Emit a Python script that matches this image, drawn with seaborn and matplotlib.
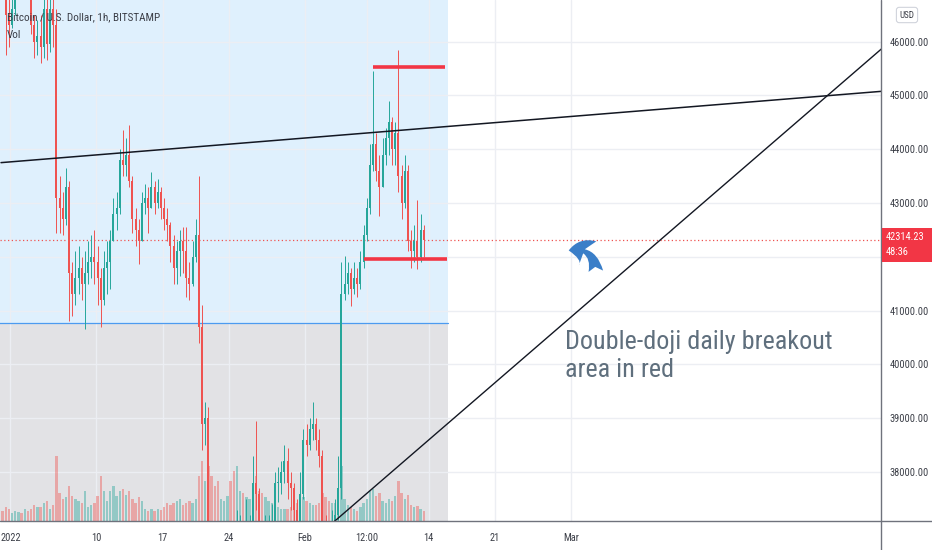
import numpy as np
import pandas as pd
import matplotlib
matplotlib.use("Agg")
import matplotlib.pyplot as plt
import seaborn as sns
from matplotlib import font_manager as fm
from matplotlib.patches import Rectangle, FancyArrowPatch
from matplotlib.lines import Line2D
from matplotlib.transforms import blended_transform_factory

# ---------------- data (8-hour candles) ----------------
first_open = 47600
closes = [
    47100, 46500, 46300,  46600, 47200, 47400,  47300, 47500, 47200,  46300, 46000, 46100,
    45900, 46600, 45950,  46600, 46300, 43100,  42900, 42700, 43300,  41700, 41300, 41600,
    41800, 41500, 41700,  41900, 42000, 41900,  41600, 41200, 41800,  41900, 42300, 42800,
    42900, 43800, 43700,  43900, 43400, 42700,  42500, 42300, 43000,  43100, 42900, 43300,
    43000, 43200, 42900,  42700, 42600, 42200,  41800, 42100, 42300,  42100, 41600, 41500,
    42000, 42400, 40700,  38900, 39000, 36300,  35500, 35200, 35000,  35400, 35700, 36200,
    34800, 33500, 36600,  36700, 36500, 36900,  36900, 37800, 37600,  36600, 36200, 36800,
    36900, 37000, 37800,  37800, 38000, 38200,  37800, 37700, 37300,  37000, 37600, 38600,
    38500, 38800, 38900,  38600, 38300, 37000,  36800, 36600, 37000,  37200, 37700, 41300,
    41500, 41700, 41400,  41600, 41500, 41900,  42400, 42900, 43700,  44100, 43600, 43300,
    43900, 44200, 44500,  44000, 44300, 43500,  43000, 43600, 42300,  42100, 42300, 42000,
    42500, 42314.23,
]
highs = [
    48200, 47300, 46900,  47000, 47600, 47900,  47900, 47800, 47600,  47300, 46500, 46400,
    46500, 47200, 46900,  47000, 47000, 46600,  43500, 43200, 43650,  43400, 41900, 42100,
    42200, 42000, 42100,  42300, 42400, 42500,  42200, 41800, 42100,  42300, 42500, 43100,
    43200, 44000, 44360,  44200, 44450, 43500,  42900, 42700, 43200,  43350, 43300, 43580,
    43400, 43450, 43300,  43100, 42900, 42650,  42400, 42300, 42500,  42550, 42550, 41900,
    42300, 42700, 43500,  41100, 39300, 39200,  36400, 35700, 35500,  35900, 36000, 36500,
    36300, 35000, 37300,  37200, 37000, 37500,  37200, 38300, 38950,  37700, 36800, 37200,
    37200, 37400, 38000,  38100, 38200, 38500,  38450, 38000, 37800,  37500, 38000, 38800,
    38900, 39000, 39300,  39000, 38800, 38400,  37200, 37000, 37300,  37500, 38300, 41900,
    42010, 41900, 41800,  41900, 41800, 42100,  42600, 43100, 44100,  45450, 44300, 43900,
    44200, 44400, 44900,  44600, 44500, 45850,  43700, 43900, 43700,  42500, 42600, 43060,
    42800, 42600,
]
lows = [
    46900, 45750, 45900,  46250, 46500, 47000,  46900, 47100, 46900,  46150, 45700, 45750,
    45600, 45700, 45650,  45800, 45900, 42450,  42450, 42400, 42600,  40800, 40900, 41100,
    41300, 41200, 40650,  41500, 41600, 41500,  41100, 40700, 41100,  41300, 41400, 42300,
    42500, 42800, 43500,  43500, 43300, 42450,  42200, 41860, 42300,  42800, 42450, 42900,
    42800, 42900, 42700,  42500, 42300, 41900,  41500, 41500, 41650,  41700, 41250, 41200,
    41450, 41900, 40400,  38400, 38500, 35800,  35000, 34600, 34100,  34700, 35200, 35500,
    34000, 32900, 33300,  36000, 35700, 36300,  36500, 36800, 37300,  36300, 35700, 36100,
    36500, 36700, 36900,  37450, 37600, 37800,  37500, 37300, 37000,  36600, 36900, 37500,
    38300, 38400, 38600,  38400, 38100, 36800,  36500, 36300, 36400,  36800, 37100, 37500,
    41200, 41300, 41080,  41300, 41250, 41400,  41800, 42300, 42800,  43600, 43400, 42750,
    43300, 43700, 43900,  43700, 43700, 43200,  42700, 42900, 42100,  41800, 41900, 41770,
    41900, 42000,
]
volumes = [
    100, 140, 120,  80, 100, 90,  80, 120, 100,  120, 160, 140,
    140, 180, 200,  120, 160, 650,  280, 220, 240,  350, 250, 220,
    200, 180, 300,  140, 160, 180,  250, 450, 300,  200, 300, 350,
    250, 300, 320,  260, 300, 220,  180, 240, 200,  120, 100, 120,
    100, 120, 110,  140, 180, 160,  180, 200, 220,  160, 180, 200,
    180, 220, 450,  600, 400, 550,  450, 350, 400,  220, 200, 250,
    400, 500, 550,  300, 280, 240,  220, 260, 450,  300, 280, 240,
    200, 180, 260,  140, 120, 120,  120, 140, 160,  180, 200, 240,
    200, 180, 160,  160, 180, 280,  240, 200, 180,  180, 220, 550,
    220, 160, 140,  120, 100, 140,  180, 220, 300,  320, 250, 280,
    200, 180, 220,  200, 250, 400,  280, 220, 260,  160, 140, 150,
    120, 100,
]
candle_times = pd.date_range("2021-12-31 00:00", periods=len(closes), freq="8h")

tick_dates = ["2022-01-01", "2022-01-10", "2022-01-17", "2022-01-24", "2022-02-01",
              "2022-02-07 12:00", "2022-02-14", "2022-02-21", "2022-03-01"]
tick_labels = ["2022", "10", "17", "24", "Feb", "12:00", "14", "21", "Mar"]
price_ticks = [38000, 39000, 40000, 41000, 42000, 43000, 44000, 45000, 46000]
price_tick_labels = ["38000.00", "39000.00", "40000.00", "41000.00", "",
                     "43000.00", "44000.00", "45000.00", "46000.00"]
last_price = 42314.23
countdown = "48:36"

# drawings (date, price)
trend1_dates = ["2021-12-31 00:00", "2022-04-03 00:00"]
trend1_prices = [43750, 45080]
trend2_dates = ["2022-02-03 21:36", "2022-04-05 00:00"]
trend2_prices = [37052, 46218]
red_top_dates = ["2022-02-08 03:50", "2022-02-15 17:45"]
red_top_price = 45530
red_bot_dates = ["2022-02-07 04:50", "2022-02-15 22:50"]
red_bot_price = 41965
zone_end_date = "2022-02-16 01:15"
zone_split_price = 40761

# ---------------- helpers ----------------
base = pd.Timestamp("2021-12-31 00:00")
def tnum(d):
    return (pd.to_datetime(d) - base) / pd.Timedelta(days=1)

o = np.array([first_open] + closes[:-1], dtype=float)
c = np.array(closes, dtype=float)
h = np.array(highs, dtype=float)
l = np.array(lows, dtype=float)
t_start = np.asarray(tnum(candle_times), dtype=float)
step = 1 / 3
tc = t_start + step / 2
up = c >= o
xticks = [float(tnum(d)) for d in tick_dates]

UP = "#26a69a"
DN = "#ef5350"

# ---------------- fonts / style ----------------
sns.set_style("white")
names = {f.name for f in fm.fontManager.ttflist}
def pick(*cands):
    for cn in cands:
        if cn in names:
            return cn
    return "DejaVu Sans"
NARROW = pick("Liberation Sans Narrow", "Roboto Condensed", "Open Sans Condensed", "DejaVu Sans")
plt.rcParams["font.family"] = [NARROW, "DejaVu Sans"]

W, H = 932, 550
fig = plt.figure(figsize=(W / 100, H / 100), dpi=100, facecolor="white")
AX_R, AX_B = 881, 521
rect = [0, (H - AX_B) / H, AX_R / W, AX_B / H]
vax = fig.add_axes(rect)
ax = fig.add_axes(rect, sharex=vax)
ax.patch.set_alpha(0)

XL = (-0.105, 92.63)
YL = (37089, 46773)
ax.set_ylim(*YL)

# ---- background zones (on lower axes, in price coords) ----
zone_end = float(tnum(zone_end_date))
vax.add_patch(Rectangle((-5, zone_split_price), zone_end + 5, 20000, transform=ax.transData,
                        facecolor=(0.129, 0.588, 0.953, 0.14), edgecolor="none", zorder=0))
vax.add_patch(Rectangle((-5, 30000), zone_end + 5, zone_split_price - 30000, transform=ax.transData,
                        facecolor=(0.47, 0.48, 0.525, 0.21), edgecolor="none", zorder=0))

# ---- grid (above the zones, below volume) ----
GRID = "#eceef3"
for p in price_ticks:
    vax.add_line(Line2D([-5, 100], [p, p], transform=ax.transData, color=GRID, lw=1.0, zorder=0.5))
vtrans = blended_transform_factory(ax.transData, ax.transAxes)
for t in xticks:
    vax.add_line(Line2D([t, t], [0, 1], transform=vtrans, color=GRID, lw=1.0, zorder=0.5))

# ---- volume via seaborn ----
vdf = pd.DataFrame({"t": tc, "vol": volumes, "dir": np.where(up, "up", "down")})
sns.histplot(data=vdf, x="t", weights="vol", hue="dir",
             binwidth=step, binrange=(t_start[0], t_start[-1] + step),
             palette={"up": UP, "down": DN}, hue_order=["up", "down"],
             multiple="layer", element="bars", alpha=0.42, linewidth=0,
             shrink=0.7, legend=False, ax=vax)
vax.set_ylim(0, 5200)
vax.set_xlim(*XL)
vax.set_axis_off()

# ---- price axes ----
ax.set_xlim(*XL)
ax.set_xticks(xticks)
ax.set_xticklabels(tick_labels)
ax.set_yticks(price_ticks)
ax.set_yticklabels(price_tick_labels)
ax.yaxis.tick_right()
ax.tick_params(axis="both", length=0, labelsize=7.5, labelcolor="#3b3e47")
ax.tick_params(axis="y", pad=6)
ax.tick_params(axis="x", pad=8.5)
ax.grid(False)
for s in ax.spines.values():
    s.set_visible(False)
ax.set_xlabel("")
ax.set_ylabel("")

# zone bottom border
ax.plot([-5, zone_end], [zone_split_price, zone_split_price], color="#4c9bf0", lw=0.9, zorder=2)

# candles
cols = np.where(up, UP, DN)
ax.vlines(tc, l, h, colors=cols, lw=0.7, zorder=3)
body_lo = np.minimum(o, c)
body_h = np.maximum(np.abs(c - o), 15)
ax.bar(tc, body_h, bottom=body_lo, width=step * 0.62, color=cols, lw=0, zorder=4)

# current price dotted line
ax.axhline(last_price, color=DN, lw=0.9, ls=(0, (1, 2)), zorder=2)

# trend lines
ax.plot([float(tnum(d)) for d in trend1_dates], trend1_prices, color="#131722", lw=1.1, zorder=5)
ax.plot([float(tnum(d)) for d in trend2_dates], trend2_prices, color="#131722", lw=1.0, zorder=5)

# red breakout lines
ax.plot([float(tnum(d)) for d in red_top_dates], [red_top_price] * 2, color="#f23645",
        lw=2.6, solid_capstyle="butt", zorder=6)
ax.plot([float(tnum(d)) for d in red_bot_dates], [red_bot_price] * 2, color="#f23645",
        lw=2.6, solid_capstyle="butt", zorder=6)

# ---- frame lines ----
axis_col = "#6f727c"
fig.add_artist(Line2D([0, 1], [1 - AX_B / H] * 2, transform=fig.transFigure, color=axis_col, lw=1.0))
fig.add_artist(Line2D([AX_R / W] * 2, [0, 1], transform=fig.transFigure, color=axis_col, lw=1.0))

def fx(px):
    return px / W
def fy(py):
    return 1 - py / H

# title
fig.text(fx(7), fy(17), "Bitcoin / U.S. Dollar, 1h, BITSTAMP", fontsize=8, color="#3b3e47", va="center")
fig.text(fx(7), fy(35), "Vol", fontsize=8, color="#3b3e47", va="center")

# USD box
fig.text(fx(907), fy(15), "USD", fontsize=6.5, color="#3b3e47", ha="center", va="center",
         bbox=dict(boxstyle="round,pad=0.35,rounding_size=0.3", fc="white", ec="#d1d4dc", lw=0.8))

# last price label
fig.add_artist(Rectangle((fx(882), fy(262)), (W - 882) / W, 34 / H, transform=fig.transFigure,
                         facecolor="#f23645", edgecolor="none", zorder=10))
fig.text(fx(886), fy(237), f"{last_price:.2f}", fontsize=7.5, color="white", va="center", zorder=11)
fig.text(fx(886), fy(252), countdown, fontsize=7.5, color="white", va="center", zorder=11)

# annotation text
TXT = "#5f6f7d"
fig.text(fx(565), fy(349), "Double-doji daily breakout", fontsize=18.8, color=TXT, va="baseline")
fig.text(fx(565), fy(377), "area in red", fontsize=18.8, color=TXT, va="baseline")

# curved arrow
arrow = FancyArrowPatch((fx(596), fy(274)), (fx(566), fy(251)), transform=fig.transFigure,
                        connectionstyle="arc3,rad=0.6",
                        arrowstyle="fancy,head_length=0.55,head_width=0.85,tail_width=0.42",
                        mutation_scale=25, color="#3a7ec8", lw=0, zorder=12)
fig.add_artist(arrow)

fig.savefig("out.png", dpi=100, facecolor="white")
